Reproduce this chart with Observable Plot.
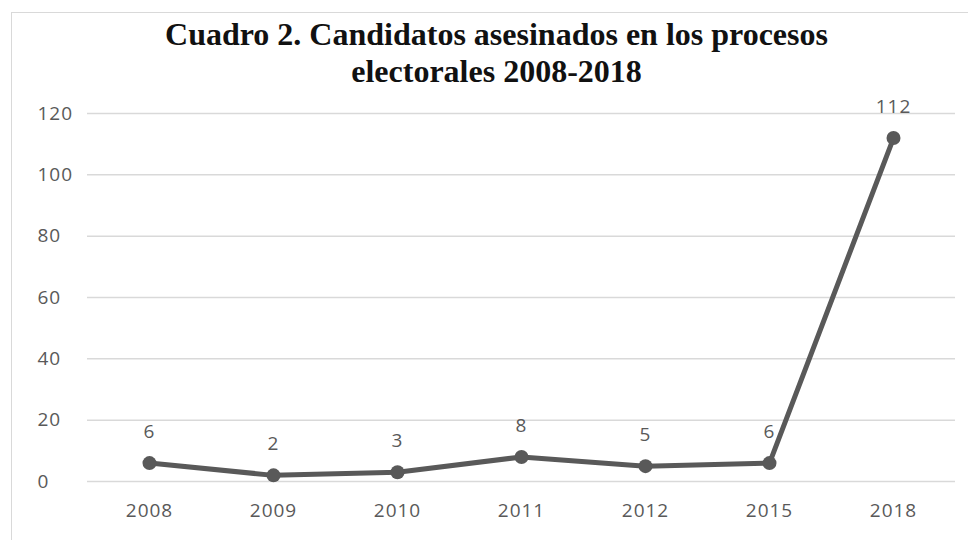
<!DOCTYPE html>
<html>
<head>
<meta charset="utf-8">
<script src="https://cdn.jsdelivr.net/npm/d3@7"></script>
<script src="https://cdn.jsdelivr.net/npm/@observablehq/plot@0.6"></script>
<style>
  html, body { margin: 0; padding: 0; background: #fff; }
  #wrap { position: relative; width: 968px; height: 540px; overflow: hidden; }
  #frame { position: absolute; left: 11px; top: 12px; width: 1000px; height: 600px;
           border-left: 1.5px solid #d9d9d9; border-top: 1.5px solid #d9d9d9; }
  #title { position: absolute; left: 0; top: 16px; width: 993px; text-align: center;
           font-family: "Liberation Serif", "Times New Roman", serif; font-weight: bold;
           font-size: 32px; line-height: 37px; color: #111; z-index: 2; }
  #chart { position: absolute; left: 0; top: 85px; }
  #chart svg text { letter-spacing: 1px; }
</style>
</head>
<body>
<div id="wrap">
  <div id="frame"></div>
  <div id="chart"></div>
  <div id="title">Cuadro 2. Candidatos asesinados en los procesos<br>electorales 2008-2018</div>
</div>
<script>
const years = ["2008", "2009", "2010", "2011", "2012", "2015", "2018"];
const killed = [6, 2, 3, 8, 5, 6, 112];
const yTicks = [0, 20, 40, 60, 80, 100, 120];

const data = years.map((y, i) => ({year: y, value: killed[i]}));

const plot = Plot.plot({
  width: 968,
  height: 455,
  marginTop: 28,
  marginBottom: 59,
  marginLeft: 87,
  marginRight: 13,
  style: {fontFamily: "'Open Sans', sans-serif", fontSize: "19px", color: "#595959", background: "transparent"},
  x: {type: "point", domain: years, padding: 0.5, label: null},
  y: {domain: [0, 120], ticks: yTicks, label: null},
  marks: [
    Plot.gridY(yTicks, {stroke: "#d9d9d9", strokeOpacity: 1, strokeWidth: 1.5}),
    Plot.axisY(yTicks, {tickSize: 0, tickPadding: 50, textAnchor: "start", fill: "#595959", label: null}),
    Plot.axisX({tickSize: 0, tickPadding: 22, fill: "#595959", label: null}),
    Plot.lineY(data, {x: "year", y: "value", stroke: "#595959", strokeWidth: 5}),
    Plot.dot(data, {x: "year", y: "value", r: 7, fill: "#595959"}),
    Plot.text(data, {x: "year", y: "value", text: d => String(d.value), dy: -31, fill: "#595959", fontSize: 19})
  ]
});
document.getElementById("chart").appendChild(plot);
</script>
</body>
</html>
